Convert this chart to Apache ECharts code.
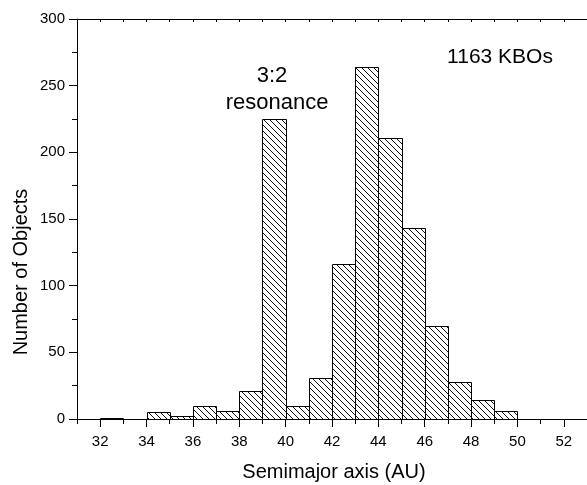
<!DOCTYPE html>
<html>
<head>
<meta charset="utf-8">
<script src="https://cdn.jsdelivr.net/npm/echarts@6/dist/echarts.min.js"></script>
<style>
  html, body { margin: 0; padding: 0; background: #fff; }
  #chart { width: 587px; height: 485px; }
</style>
</head>
<body>
<div id="chart"></div>
<script>
// Histogram of Kuiper Belt Object semimajor axes, 1 AU bins
const binStarts = [32, 33, 34, 35, 36, 37, 38, 39, 40, 41, 42, 43, 44, 45, 46, 47, 48, 49];
const counts    = [1, 0, 5, 2, 10, 6, 21, 225, 10, 31, 116, 264, 211, 143, 70, 28, 14, 6];
const binWidth = 1;

// Axis tick values
const xMajorTicks = [32, 34, 36, 38, 40, 42, 44, 46, 48, 50, 52];
const xMinorTicks = [31, 33, 35, 37, 39, 41, 43, 45, 47, 49, 51, 53];

const FONT = '"Liberation Sans", Arial, sans-serif';

// Diagonal "\" hatch used to fill the bars
function makeHatch(size) {
  const c = document.createElement('canvas');
  c.width = size; c.height = size;
  const ctx = c.getContext('2d');
  ctx.strokeStyle = '#111';
  ctx.lineWidth = 1;
  for (let k = -1; k <= 1; k++) {
    ctx.beginPath();
    ctx.moveTo(-1, -1 + k * size);
    ctx.lineTo(size + 1, size + 1 + k * size);
    ctx.stroke();
  }
  return c;
}
const hatch = { image: makeHatch(6), repeat: 'repeat' };

const bars = binStarts.map((x, i) => [x, x + binWidth, counts[i]]);

const chart = echarts.init(document.getElementById('chart'), null, { renderer: 'canvas' });

const axisLine = { show: true, lineStyle: { color: '#000', width: 1 } };

chart.setOption({
  animation: false,
  backgroundColor: '#fff',
  grid: { left: 77, right: -1, top: 19, bottom: 66 },
  xAxis: [
    {
      type: 'value', position: 'bottom', min: 31, max: 53, interval: 1,
      axisLine: axisLine,
      axisTick: { show: true, inside: false, length: 8, customValues: xMajorTicks, lineStyle: { color: '#000' } },
      axisLabel: { show: true, customValues: xMajorTicks, margin: 15, color: '#000', fontSize: 15, fontFamily: FONT },
      splitLine: { show: false }
    },
    {
      type: 'value', position: 'bottom', min: 31, max: 53, interval: 1,
      axisLine: { show: false },
      axisTick: { show: true, inside: false, length: 5, customValues: xMinorTicks, lineStyle: { color: '#000' } },
      axisLabel: { show: false },
      splitLine: { show: false }
    },
    {
      type: 'value', position: 'top', min: 31, max: 53, interval: 1,
      axisLine: axisLine,
      axisTick: { show: true, inside: true, length: 3, lineStyle: { color: '#000' } },
      axisLabel: { show: false },
      splitLine: { show: false }
    }
  ],
  yAxis: {
    type: 'value', min: 0, max: 300, interval: 50,
    axisLine: axisLine,
    axisTick: { show: true, inside: false, length: 8, lineStyle: { color: '#000' } },
    minorTick: { show: true, splitNumber: 2, length: 5, lineStyle: { color: '#000' } },
    axisLabel: { margin: 12, color: '#000', fontSize: 15, fontFamily: FONT },
    splitLine: { show: false },
    minorSplitLine: { show: false }
  },
  series: [{
    type: 'custom',
    xAxisIndex: 0,
    yAxisIndex: 0,
    data: bars,
    encode: { x: [0, 1], y: 2 },
    renderItem: function (params, api) {
      const topLeft = api.coord([api.value(0), api.value(2)]);
      const bottomRight = api.coord([api.value(1), 0]);
      const x0 = Math.round(topLeft[0]) + 0.5;
      const x1 = Math.round(bottomRight[0]) + 0.5;
      const y0 = Math.round(topLeft[1]) + 0.5;
      const y1 = Math.round(bottomRight[1]) + 0.5;
      return {
        type: 'rect',
        shape: { x: x0, y: y0, width: x1 - x0, height: y1 - y0 },
        style: { fill: hatch, stroke: '#000', lineWidth: 1 }
      };
    }
  }],
  graphic: [
    { type: 'text', x: 272, y: 76, style: { text: '3:2', font: '22px ' + FONT, fill: '#000', align: 'center', verticalAlign: 'middle' } },
    { type: 'text', x: 277, y: 103, style: { text: 'resonance', font: '22px ' + FONT, fill: '#000', align: 'center', verticalAlign: 'middle' } },
    { type: 'text', x: 500, y: 57, style: { text: '1163 KBOs', font: '21px ' + FONT, fill: '#000', align: 'center', verticalAlign: 'middle' } },
    { type: 'text', x: 334, y: 472, style: { text: 'Semimajor axis (AU)', font: '20px ' + FONT, fill: '#000', align: 'center', verticalAlign: 'middle' } },
    { type: 'text', x: 21, y: 272, rotation: Math.PI / 2, style: { text: 'Number of Objects', font: '20px ' + FONT, fill: '#000', align: 'center', verticalAlign: 'middle' } }
  ]
});
</script>
</body>
</html>
